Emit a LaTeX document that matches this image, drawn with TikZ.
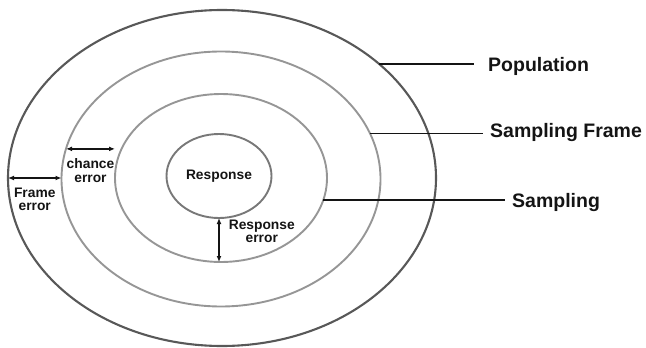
\documentclass[tikz,border=0pt]{standalone}
\usepackage{fontspec}
\setmainfont{Liberation Sans}
\usepackage{tikz}
\usetikzlibrary{
  arrows.meta,
  positioning,
  calc,
  shapes.geometric
}
\definecolor{RingDark}{RGB}{88,88,88}
\definecolor{RingMid}{RGB}{120,120,120}
\definecolor{RingLight}{RGB}{150,150,150}
\definecolor{InkBlack}{RGB}{20,20,20}
\tikzset{
  ring/.style={
    draw=RingLight,
    ellipse,
    line width=1.9pt,
    inner sep=0pt,
    outer sep=0pt
  },
  outerring/.style={ring,draw=RingDark,line width=2.1pt},
  innerring/.style={ring,draw=RingMid,font=\fontsize{13.8}{13.5}\selectfont\bfseries,text=InkBlack},
  lead/.style={line width=1.9pt,draw=InkBlack},
  dimarrow/.style={{Latex[length=6pt,width=5pt]}-{Latex[length=6pt,width=5pt]},line width=1.6pt,draw=InkBlack},
  lbl/.style={inner sep=0pt,align=center,text=InkBlack,font=\fontsize{13.8}{13.5}\selectfont\bfseries},
  biglbl/.style={inner sep=0pt,text=InkBlack,font=\fontsize{19.5}{22}\selectfont\bfseries}
}
\begin{document}
\begin{tikzpicture}[x=1pt,y=-1pt]
  \useasboundingbox (0,0) rectangle (646,348);

  % nested rings
  \node[outerring, minimum width=428pt, minimum height=336pt] (pop) at (222,178) {};
  \node[ring, minimum width=319pt, minimum height=255pt] (frame) at (221,179) {};
  \node[ring, minimum width=212pt, minimum height=168pt] (samp) at (221,178) {};
  \node[innerring, minimum width=105pt, minimum height=84pt] (resp) at (219,176) {Response};

  % leaders to the names
  \coordinate (popend) at (474,63);
  \coordinate (frameend) at (483,132);
  \coordinate (sampend) at (505,200);
  \draw[lead] (pop.36) -- (pop.36 -| popend);
  \draw[lead] (frame.17) -- (frame.17 -| frameend);
  \draw[lead] (samp.-12) -- (samp.-12 -| sampend);
  \node[biglbl, anchor=base west] (poplbl) at (488,71) {Population};
  \node[biglbl, anchor=base west] (framelbl) at (490,137) {Sampling Frame};
  \node[biglbl, anchor=base west] (samplbl) at (512,207) {Sampling};

  % errors between the rings
  \draw[dimarrow] (pop.west) -- (pop.west -| frame.west)
    node[lbl, midway, anchor=north, yshift=-9pt] (frameerr) {Frame\\error};
  \draw[dimarrow] (frame.169) -- (frame.169 -| samp.west)
    node[lbl, midway, anchor=north, yshift=-9pt] (chanceerr) {chance\\error};
  \draw[dimarrow] (resp.south) -- (resp.south |- samp.south)
    node[lbl, pos=0, anchor=north west, xshift=9pt, yshift=-1pt] (resperr) {Response\\error};
\end{tikzpicture}
\end{document}
